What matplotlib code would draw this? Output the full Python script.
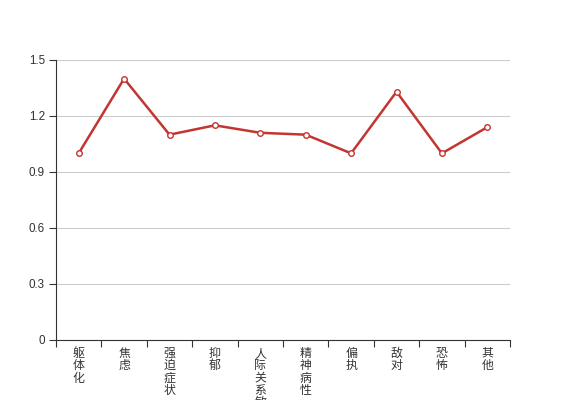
import numpy as np
import matplotlib.pyplot as plt
from matplotlib.ticker import FixedLocator

plt.rcParams['font.family'] = ['Noto Sans CJK SC', 'DejaVu Sans']

# data
categories = ['躯体化', '焦虑', '强迫症状', '抑郁', '人际关系敏感',
              '精神病性', '偏执', '敌对', '恐怖', '其他']
values = [1.00, 1.40, 1.10, 1.15, 1.11, 1.10, 1.00, 1.33, 1.00, 1.14]
y_ticks = [0, 0.3, 0.6, 0.9, 1.2, 1.5]
y_labels = ['0', '0.3', '0.6', '0.9', '1.2', '1.5']

fig = plt.figure(figsize=(5.67, 4.0), dpi=100)
ax = fig.add_axes([56/567, 60/400, 454/567, 280/400])

x = np.arange(len(categories))
ax.plot(x, values, color='#c23531', lw=1.8, marker='o', ms=4,
        mfc='white', mec='#c23531', mew=1, zorder=3)

ax.set_xlim(-0.5, len(categories) - 0.5)
ax.set_ylim(0, 1.5)

# y axis
ax.set_yticks(y_ticks)
ax.set_yticklabels(y_labels, fontsize=8.4, color='#333333',
                   family='Liberation Sans')
ax.grid(axis='y', color='#cccccc', lw=0.8)
ax.set_axisbelow(True)
ax.tick_params(axis='y', length=5, width=0.8, color='#333333', pad=3)

# x axis: boundary ticks, labels at band centres
ax.xaxis.set_major_locator(FixedLocator(np.arange(-0.5, len(categories), 1.0)))
ax.set_xticklabels([])
ax.xaxis.set_minor_locator(FixedLocator(x))
ax.set_xticklabels(['\n'.join(c) for c in categories], minor=True,
                   fontsize=8.6, color='#333333', linespacing=0.93)
ax.tick_params(axis='x', which='minor', length=0, pad=5)
ax.tick_params(axis='x', which='major', length=5, width=0.8, color='#333333')

for s in ['top', 'right']:
    ax.spines[s].set_visible(False)
for s in ['left', 'bottom']:
    ax.spines[s].set_color('#333333')
    ax.spines[s].set_linewidth(0.8)

fig.savefig('out.png', dpi=100)
